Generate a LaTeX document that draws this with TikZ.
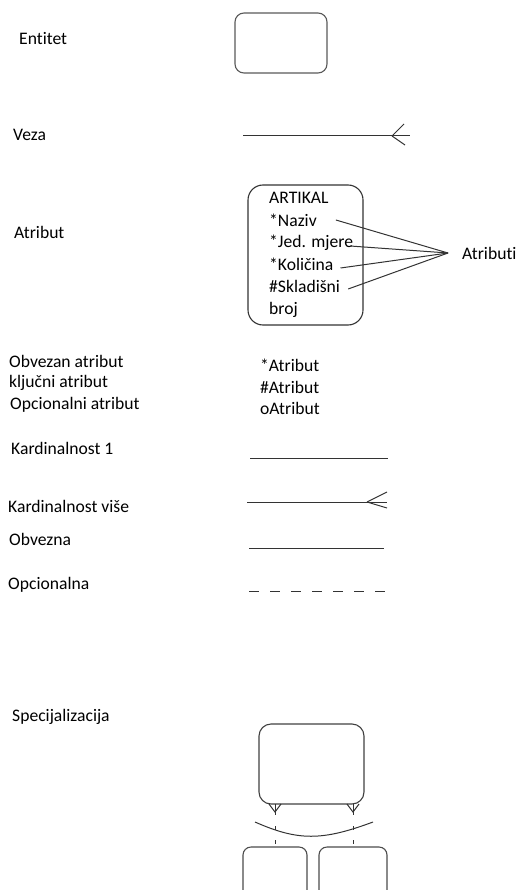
\documentclass[tikz,border=0pt]{standalone}
\usepackage{fontspec}
\setmainfont[Ligatures=NoCommon]{Carlito}
\usetikzlibrary{positioning}

\begin{document}
\begin{tikzpicture}[x=1pt, y=-1pt,
    lbl/.style={anchor=base west, inner sep=0pt, font=\fontsize{17.6}{21}\selectfont, text=black},
    ln/.style={line width=1pt, draw=black!80},
    entbox/.style={line width=1.1pt, draw=black!65, minimum width=#1, inner sep=0pt},
    spart/.style={line width=1.1pt, draw=black!70}]

    \useasboundingbox (0,0) rectangle (518,890);

    % Left column of labels
    \foreach \name/\txt/\x/\y in {lent/Entitet/19/45, lveza/Veza/13/141, latr/Atribut/14/239,
        lobv/Obvezan atribut/9/367, lklj/ključni atribut/9/387, lopc/Opcionalni atribut/10/409,
        lk1/Kardinalnost 1/11/454, lkn/Kardinalnost više/8/512, lobz/Obvezna/9/545,
        lopz/Opcionalna/8/589, lspec/Specijalizacija/12/721} {
        \node[lbl] (\name) at (\x,\y) {\txt};
    }

    % Entitet
    \node[entbox=92pt, minimum height=60pt, rounded corners=9pt] (entitet) at (281,43) {};

    % Veza
    \coordinate (vezaA) at (243,136);
    \coordinate (vezaB) at (410,136);
    \coordinate (vezaC) at (392,136);
    \draw[ln] (vezaA) -- (vezaB);
    \draw[ln] (vezaC) -- ++(12,-12) (vezaC) -- ++(13,9);

    % Atribut
    \node[entbox=115pt, minimum height=140pt, rounded corners=15pt, draw=black!80] (artikal) at (305.5,255) {};
    \foreach \name/\txt/\y in {art/ARTIKAL/204, naziv/*Naziv/227, jed/*Jed. mjere/248,
        kol/*Količina/270, skl/\#Skladišni/292, broj/broj/314} {
        \node[lbl] (\name) at (269,\y) {\txt};
    }
    \node[lbl] (atributi) at (462,260) {Atributi};
    \coordinate (fan) at (448,253);
    \draw[ln] ([shift={(19,-7)}]naziv.base east) -- (fan);
    \draw[ln] ([shift={(-3,-2)}]jed.base east) -- (fan);
    \draw[ln] ([shift={(7,-2)}]kol.base east) -- (fan);
    \draw[ln] ([shift={(8,-3)}]skl.base east) -- (fan);

    % Vrste atributa
    \node[lbl] (oblig) at (260,371) {*Atribut};
    \node[lbl] (kljuc) at (260,393) {\#Atribut};
    \node[lbl] (opcio) at (260,414) {oAtribut};

    % Kardinalnost i opcionalnost
    \coordinate (k1a) at (250,458);
    \coordinate (k1b) at (388,458);
    \draw[ln] (k1a) -- (k1b);
    \coordinate (kna) at (247,502);
    \coordinate (knb) at (387,502);
    \coordinate (knc) at (367,502);
    \draw[ln] (kna) -- (knb);
    \draw[ln] (knc) -- ++(20,-10) (knc) -- ++(20,6);
    \coordinate (oba) at (249,548);
    \coordinate (obb) at (384,548);
    \draw[ln] (oba) -- (obb);
    \coordinate (opa) at (249,591);
    \coordinate (opb) at (385,591);
    \draw[ln, dash pattern=on 10pt off 11pt] (opa) -- (opb);

    % Specijalizacija
    \node[entbox=105pt, minimum height=80pt, rounded corners=12pt, draw=black!75] (spec) at (311.5,764) {};
    \foreach \sx in {275,353} {
        \draw[ln] (\sx-6,804) -- (\sx,812) -- (\sx+6,804);
        \draw[ln] (\sx,804) -- (\sx,815);
        \draw[ln, dash pattern=on 4pt off 10pt] (\sx,826) -- (\sx,847);
    }
    \draw[ln] (255,822) .. controls (298,841) and (322,841) .. (373,822);
    \draw[spart, rounded corners=8pt] (243,892) -- (243,847) -- (307,847) -- (307,892);
    \draw[spart, rounded corners=8pt] (319,892) -- (319,847) -- (387,847) -- (387,892);
\end{tikzpicture}
\end{document}
